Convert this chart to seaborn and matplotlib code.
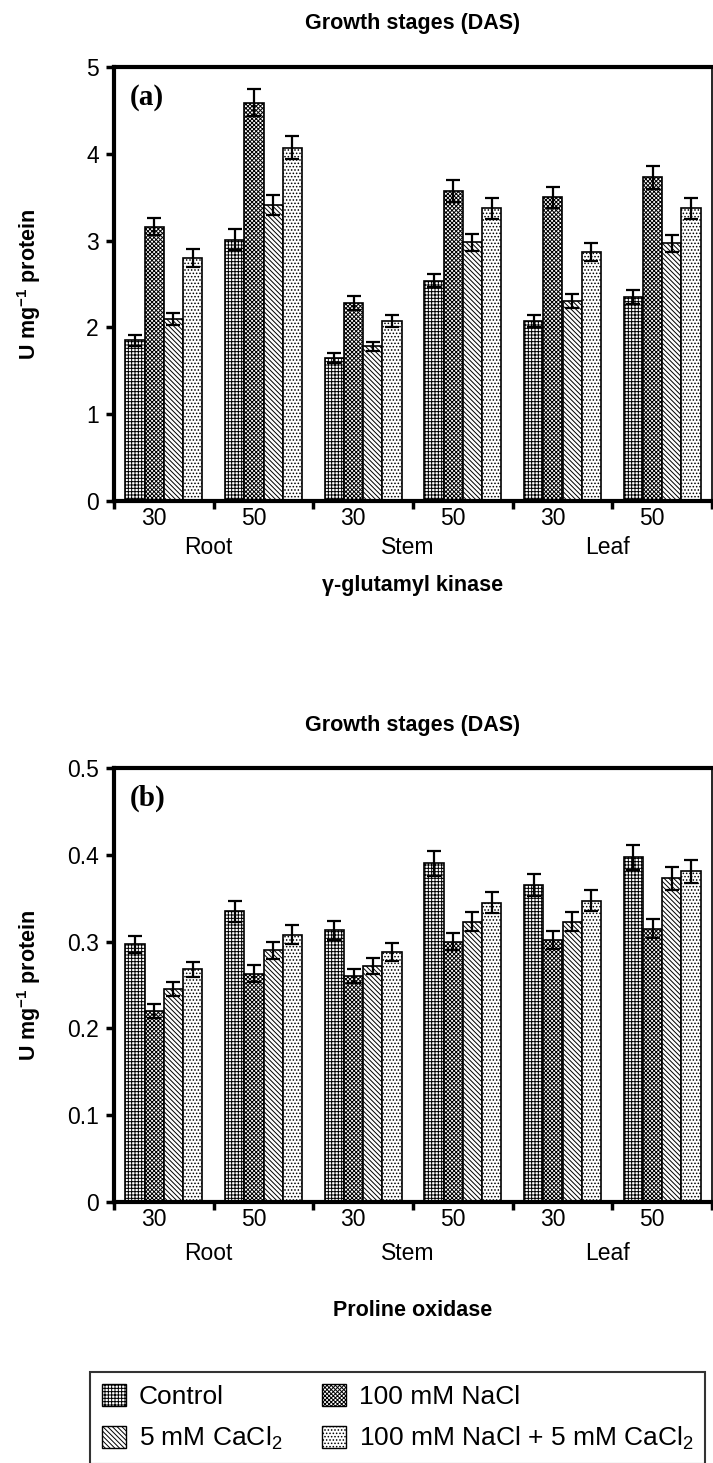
import matplotlib
matplotlib.use('Agg')
import matplotlib.pyplot as plt
import matplotlib.transforms as mtransforms
from matplotlib.patches import Patch
import pandas as pd
import seaborn as sns

# Data.
organs = ['Root', 'Stem', 'Leaf']
stages = ['30', '50']
groups = ['Root 30', 'Root 50', 'Stem 30', 'Stem 50', 'Leaf 30', 'Leaf 50']
treatments = ['Control', '100 mM NaCl', '5 mM CaCl$_2$', '100 mM NaCl + 5 mM CaCl$_2$']
hatches = ['+++++', 'xxxxxxxx', '\\\\\\\\\\\\\\', '.....']

# (a) gamma-glutamyl kinase, one list per treatment, order of groups
gk_control = [1.85, 3.01, 1.65, 2.54, 2.07, 2.35]
gk_nacl = [3.16, 4.59, 2.28, 3.57, 3.50, 3.73]
gk_cacl = [2.10, 3.41, 1.78, 2.98, 2.30, 2.97]
gk_both = [2.80, 4.07, 2.07, 3.37, 2.87, 3.37]
gk_err_control = [0.06, 0.12, 0.06, 0.08, 0.07, 0.08]
gk_err_nacl = [0.10, 0.16, 0.08, 0.13, 0.12, 0.13]
gk_err_cacl = [0.07, 0.11, 0.05, 0.10, 0.08, 0.10]
gk_err_both = [0.10, 0.13, 0.07, 0.12, 0.10, 0.12]

# (b) proline oxidase
po_control = [0.297, 0.335, 0.313, 0.390, 0.365, 0.397]
po_nacl = [0.220, 0.263, 0.260, 0.300, 0.302, 0.315]
po_cacl = [0.245, 0.290, 0.272, 0.323, 0.323, 0.373]
po_both = [0.268, 0.308, 0.288, 0.345, 0.347, 0.381]
po_err_control = [0.010, 0.012, 0.011, 0.014, 0.013, 0.014]
po_err_nacl = [0.008, 0.010, 0.008, 0.010, 0.010, 0.011]
po_err_cacl = [0.008, 0.010, 0.009, 0.011, 0.011, 0.013]
po_err_both = [0.009, 0.011, 0.010, 0.012, 0.012, 0.013]

gk_ticks = [0, 1, 2, 3, 4, 5]
gk_ticklabels = ['0', '1', '2', '3', '4', '5']
po_ticks = [0, 0.1, 0.2, 0.3, 0.4, 0.5]
po_ticklabels = ['0', '0.1', '0.2', '0.3', '0.4', '0.5']

sns.set_style('white')
plt.rcParams['font.family'] = ['Liberation Sans', 'DejaVu Sans']
plt.rcParams['mathtext.default'] = 'regular'
plt.rcParams['hatch.linewidth'] = 0.7
for key in ['text.color', 'axes.labelcolor', 'xtick.color', 'ytick.color']:
    plt.rcParams[key] = 'black'


def make_df(values, errors):
    rows = []
    for t, vals, errs in zip(treatments, values, errors):
        for g, v, e in zip(groups, vals, errs):
            rows.append({'group': g, 'treatment': t, 'value': v, 'err': e})
    return pd.DataFrame(rows)


def draw_panel(ax, df, ticks, ticklabels, ymax, letter, xlabel, organ_y, xlabel_y):
    sns.barplot(data=df, x='group', y='value', hue='treatment', order=groups,
                hue_order=treatments, palette=['white'] * 4, saturation=1,
                edgecolor='black', linewidth=1.2, width=0.77, errorbar=None,
                legend=False, ax=ax)
    # hatching and error bars per treatment
    for cont, hatch, t in zip(ax.containers, hatches, treatments):
        sub = df[df['treatment'] == t]
        xs = []
        for bar in cont:
            bar.set_hatch(hatch)
            xs.append(bar.get_x() + bar.get_width() / 2)
        ax.errorbar(xs, sub['value'].values, yerr=sub['err'].values, fmt='none',
                    ecolor='black', elinewidth=1.6, capsize=5, capthick=1.6, zorder=5)

    ax.set_xlim(-0.5, 5.5)
    ax.set_ylim(0, ymax)
    ax.set_yticks(ticks)
    ax.set_yticklabels(ticklabels, fontsize=16.5)
    ax.set_xticks(range(6))
    ax.set_xticklabels(stages * 3, fontsize=16.5)
    ax.set_xticks([i - 0.5 for i in range(7)], minor=True)
    ax.tick_params(axis='x', which='major', length=0, pad=4)
    ax.tick_params(axis='x', which='minor', length=6, width=2.5, direction='out',
                   bottom=True, color='black')
    ax.tick_params(axis='y', length=6, width=2.5, direction='out', left=True,
                   pad=5, color='black')
    fig = ax.figure
    shift = mtransforms.ScaledTranslation(-10 / 100, 0, fig.dpi_scale_trans)
    for lab in ax.get_xticklabels():
        lab.set_transform(lab.get_transform() + shift)

    for side in ['left', 'top', 'bottom']:
        ax.spines[side].set_linewidth(3)
        ax.spines[side].set_color('black')
    ax.spines['right'].set_linewidth(1.2)
    ax.spines['right'].set_color('black')

    ax.set_xlabel('')
    ax.set_ylabel('U mg$^{-1}$ protein', fontsize=15.5, fontweight='bold')
    ax.yaxis.set_label_coords(-0.119, 0.5)
    ax.set_title('Growth stages (DAS)', fontsize=15.5, fontweight='bold', pad=27)

    trans = mtransforms.blended_transform_factory(ax.transData, ax.transAxes)
    for i, organ in enumerate(organs):
        ax.text(2 * i + 0.45, organ_y, organ, transform=trans, ha='center',
                va='center', fontsize=16.5)
    ax.text(0.5, xlabel_y, xlabel, transform=ax.transAxes, ha='center', va='center',
            fontsize=15.5, fontweight='bold')
    ax.text(0.027, 0.93, letter, transform=ax.transAxes, ha='left', va='center',
            fontsize=21, fontweight='bold', family='Liberation Serif')


fig = plt.figure(figsize=(7.13, 14.63), dpi=100)
W, H = 713, 1463
ax1 = fig.add_axes([114 / W, 1 - 501 / H, 598 / W, 434 / H])
ax2 = fig.add_axes([114 / W, 1 - 1202 / H, 598 / W, 434 / H])

df_gk = make_df([gk_control, gk_nacl, gk_cacl, gk_both],
                [gk_err_control, gk_err_nacl, gk_err_cacl, gk_err_both])
df_po = make_df([po_control, po_nacl, po_cacl, po_both],
                [po_err_control, po_err_nacl, po_err_cacl, po_err_both])

draw_panel(ax1, df_gk, gk_ticks, gk_ticklabels, 5, '(a)', '\u03b3-glutamyl kinase', -0.108, -0.194)
draw_panel(ax2, df_po, po_ticks, po_ticklabels, 0.5, '(b)', 'Proline oxidase', -0.118, -0.249)

# Legend: column-wise fill gives Control/NaCl on first row
order = [0, 2, 1, 3]
handles = [Patch(facecolor='white', edgecolor='black', hatch=hatches[i], linewidth=1.0)
           for i in order]
labels = [treatments[i] for i in order]
leg = fig.legend(handles, labels, loc='upper left', bbox_to_anchor=(90 / W, 1 - 1372 / H),
                 ncol=2, fontsize=19, frameon=True, fancybox=False, edgecolor='black',
                 handlelength=0.9, handleheight=0.9, handletextpad=0.5,
                 columnspacing=1.5, labelspacing=0.6, borderpad=0.45, borderaxespad=0)
leg.get_frame().set_linewidth(1.5)

fig.savefig('out.png', dpi=100)
